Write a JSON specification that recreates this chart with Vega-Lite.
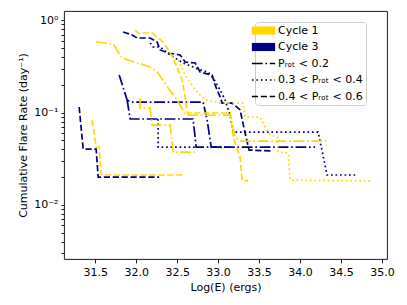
{
"$schema": "https://vega.github.io/schema/vega-lite/v6.json",
"width": 323, "height": 248,
"autosize": {"type": "none"},
"padding": {"left": 64, "top": 11, "right": 20, "bottom": 46},
"config": {"view": {"stroke": "#000", "strokeWidth": 0.9}, "font": "DejaVu Sans",
  "legend": {"strokeColor": "#cccccc", "fillColor": "#ffffff", "cornerRadius": 3},
  "axis": {"domain": false, "grid": false, "labelFont": "DejaVu Sans", "labelFontSize": 11, "labelColor": "#000", "titleFont": "DejaVu Sans", "titleFontSize": 11, "titleFontWeight": "normal", "titleColor": "#000", "tickColor": "#000", "tickWidth": 0.9}},
"data": {"values": [
{"s":"A","grp":"C3 0.4-0.6","i":0,"E":31.305,"rate":0.115},
{"s":"A","grp":"C3 0.4-0.6","i":1,"E":31.354,"rate":0.0403},
{"s":"A","grp":"C3 0.4-0.6","i":2,"E":31.512,"rate":0.0403},
{"s":"A","grp":"C3 0.4-0.6","i":3,"E":31.537,"rate":0.0200},
{"s":"A","grp":"C3 0.4-0.6","i":4,"E":32.280,"rate":0.0200},
{"s":"B","grp":"C1 0.4-0.6","i":0,"E":31.463,"rate":0.0832},
{"s":"B","grp":"C1 0.4-0.6","i":1,"E":31.512,"rate":0.0424},
{"s":"B","grp":"C1 0.4-0.6","i":2,"E":31.549,"rate":0.0424},
{"s":"B","grp":"C1 0.4-0.6","i":3,"E":31.573,"rate":0.0211},
{"s":"B","grp":"C1 0.4-0.6","i":4,"E":32.573,"rate":0.0211},
{"s":"C","grp":"C3 <0.2","i":0,"E":31.793,"rate":0.255},
{"s":"C","grp":"C3 <0.2","i":1,"E":31.890,"rate":0.137},
{"s":"C","grp":"C3 <0.2","i":2,"E":31.939,"rate":0.130},
{"s":"C","grp":"C3 <0.2","i":3,"E":32.817,"rate":0.130},
{"s":"C","grp":"C3 <0.2","i":4,"E":32.866,"rate":0.0832},
{"s":"C","grp":"C3 <0.2","i":5,"E":32.915,"rate":0.0424},
{"s":"C","grp":"C3 <0.2","i":6,"E":34.183,"rate":0.0424},
{"s":"D","grp":"C3 <0.2","i":0,"E":31.890,"rate":0.137},
{"s":"D","grp":"C3 <0.2","i":1,"E":31.927,"rate":0.0853},
{"s":"D","grp":"C3 <0.2","i":2,"E":32.695,"rate":0.0853},
{"s":"D","grp":"C3 <0.2","i":3,"E":32.732,"rate":0.0424},
{"s":"D","grp":"C3 <0.2","i":4,"E":33.146,"rate":0.0424},
{"s":"E","grp":"C3 0.4-0.6","i":0,"E":31.841,"rate":0.747},
{"s":"E","grp":"C3 0.4-0.6","i":1,"E":31.951,"rate":0.693},
{"s":"E","grp":"C3 0.4-0.6","i":2,"E":32.012,"rate":0.643},
{"s":"E","grp":"C3 0.4-0.6","i":3,"E":32.171,"rate":0.643},
{"s":"E","grp":"C3 0.4-0.6","i":4,"E":32.256,"rate":0.582},
{"s":"E","grp":"C3 0.4-0.6","i":5,"E":32.293,"rate":0.477},
{"s":"E","grp":"C3 0.4-0.6","i":6,"E":32.390,"rate":0.442},
{"s":"E","grp":"C3 0.4-0.6","i":7,"E":32.537,"rate":0.421},
{"s":"E","grp":"C3 0.4-0.6","i":8,"E":32.598,"rate":0.353},
{"s":"E","grp":"C3 0.4-0.6","i":9,"E":32.720,"rate":0.345},
{"s":"E","grp":"C3 0.4-0.6","i":10,"E":32.780,"rate":0.275},
{"s":"E","grp":"C3 0.4-0.6","i":11,"E":32.927,"rate":0.255},
{"s":"E","grp":"C3 0.4-0.6","i":12,"E":32.963,"rate":0.199},
{"s":"E","grp":"C3 0.4-0.6","i":13,"E":33.024,"rate":0.148},
{"s":"E","grp":"C3 0.4-0.6","i":14,"E":33.049,"rate":0.127},
{"s":"E","grp":"C3 0.4-0.6","i":15,"E":33.171,"rate":0.127},
{"s":"E","grp":"C3 0.4-0.6","i":16,"E":33.268,"rate":0.107},
{"s":"E","grp":"C3 0.4-0.6","i":17,"E":33.329,"rate":0.0601},
{"s":"E","grp":"C3 0.4-0.6","i":18,"E":33.378,"rate":0.0393},
{"s":"E","grp":"C3 0.4-0.6","i":19,"E":33.671,"rate":0.0384},
{"s":"F","grp":"C3 0.3-0.4","i":0,"E":32.171,"rate":0.568},
{"s":"F","grp":"C3 0.3-0.4","i":1,"E":32.207,"rate":0.514},
{"s":"F","grp":"C3 0.3-0.4","i":2,"E":32.293,"rate":0.514},
{"s":"F","grp":"C3 0.3-0.4","i":3,"E":32.415,"rate":0.421},
{"s":"F","grp":"C3 0.3-0.4","i":4,"E":32.573,"rate":0.345},
{"s":"F","grp":"C3 0.3-0.4","i":5,"E":32.695,"rate":0.312},
{"s":"F","grp":"C3 0.3-0.4","i":6,"E":32.780,"rate":0.290},
{"s":"F","grp":"C3 0.3-0.4","i":7,"E":32.878,"rate":0.275},
{"s":"F","grp":"C3 0.3-0.4","i":8,"E":32.939,"rate":0.237},
{"s":"F","grp":"C3 0.3-0.4","i":9,"E":33.024,"rate":0.176},
{"s":"F","grp":"C3 0.3-0.4","i":10,"E":33.085,"rate":0.137},
{"s":"F","grp":"C3 0.3-0.4","i":11,"E":33.146,"rate":0.094},
{"s":"F","grp":"C3 0.3-0.4","i":12,"E":33.183,"rate":0.0616},
{"s":"F","grp":"C3 0.3-0.4","i":13,"E":34.220,"rate":0.0616},
{"s":"F","grp":"C3 0.3-0.4","i":14,"E":34.329,"rate":0.0211},
{"s":"F","grp":"C3 0.3-0.4","i":15,"E":34.695,"rate":0.0211},
{"s":"G","grp":"C3 0.3-0.4","i":0,"E":32.268,"rate":0.0853},
{"s":"G","grp":"C3 0.3-0.4","i":1,"E":32.268,"rate":0.0424},
{"s":"G","grp":"C3 0.3-0.4","i":2,"E":32.744,"rate":0.0424},
{"s":"H","grp":"C1 <0.2","i":0,"E":31.512,"rate":0.582},
{"s":"H","grp":"C1 <0.2","i":1,"E":31.720,"rate":0.554},
{"s":"H","grp":"C1 <0.2","i":2,"E":31.829,"rate":0.391},
{"s":"H","grp":"C1 <0.2","i":3,"E":32.012,"rate":0.345},
{"s":"H","grp":"C1 <0.2","i":4,"E":32.171,"rate":0.312},
{"s":"H","grp":"C1 <0.2","i":5,"E":32.256,"rate":0.275},
{"s":"H","grp":"C1 <0.2","i":6,"E":32.329,"rate":0.225},
{"s":"H","grp":"C1 <0.2","i":7,"E":32.390,"rate":0.185},
{"s":"H","grp":"C1 <0.2","i":8,"E":32.476,"rate":0.148},
{"s":"H","grp":"C1 <0.2","i":9,"E":32.537,"rate":0.121},
{"s":"H","grp":"C1 <0.2","i":10,"E":32.598,"rate":0.094},
{"s":"H","grp":"C1 <0.2","i":11,"E":33.146,"rate":0.094},
{"s":"H","grp":"C1 <0.2","i":12,"E":33.207,"rate":0.0544},
{"s":"H","grp":"C1 <0.2","i":13,"E":33.268,"rate":0.0492},
{"s":"H","grp":"C1 <0.2","i":14,"E":34.329,"rate":0.0492},
{"s":"I","grp":"C1 0.4-0.6","i":0,"E":31.988,"rate":0.785},
{"s":"I","grp":"C1 0.4-0.6","i":1,"E":32.024,"rate":0.728},
{"s":"I","grp":"C1 0.4-0.6","i":2,"E":32.195,"rate":0.728},
{"s":"I","grp":"C1 0.4-0.6","i":3,"E":32.256,"rate":0.659},
{"s":"I","grp":"C1 0.4-0.6","i":4,"E":32.329,"rate":0.582},
{"s":"I","grp":"C1 0.4-0.6","i":5,"E":32.378,"rate":0.501},
{"s":"I","grp":"C1 0.4-0.6","i":6,"E":32.451,"rate":0.391},
{"s":"I","grp":"C1 0.4-0.6","i":7,"E":32.512,"rate":0.290},
{"s":"I","grp":"C1 0.4-0.6","i":8,"E":32.561,"rate":0.225},
{"s":"I","grp":"C1 0.4-0.6","i":9,"E":32.598,"rate":0.148},
{"s":"I","grp":"C1 0.4-0.6","i":10,"E":32.622,"rate":0.099},
{"s":"I","grp":"C1 0.4-0.6","i":11,"E":33.146,"rate":0.099},
{"s":"I","grp":"C1 0.4-0.6","i":12,"E":33.183,"rate":0.0544},
{"s":"I","grp":"C1 0.4-0.6","i":13,"E":33.268,"rate":0.0330},
{"s":"I","grp":"C1 0.4-0.6","i":14,"E":33.293,"rate":0.0186},
{"s":"I","grp":"C1 0.4-0.6","i":15,"E":33.366,"rate":0.0182},
{"s":"J","grp":"C1 0.3-0.4","i":0,"E":32.512,"rate":0.371},
{"s":"J","grp":"C1 0.3-0.4","i":1,"E":32.598,"rate":0.255},
{"s":"J","grp":"C1 0.3-0.4","i":2,"E":32.720,"rate":0.176},
{"s":"J","grp":"C1 0.3-0.4","i":3,"E":32.841,"rate":0.137},
{"s":"J","grp":"C1 0.3-0.4","i":4,"E":33.024,"rate":0.127},
{"s":"J","grp":"C1 0.3-0.4","i":5,"E":33.305,"rate":0.127},
{"s":"J","grp":"C1 0.3-0.4","i":6,"E":33.329,"rate":0.0896},
{"s":"J","grp":"C1 0.3-0.4","i":7,"E":33.512,"rate":0.0896},
{"s":"J","grp":"C1 0.3-0.4","i":8,"E":33.573,"rate":0.0698},
{"s":"J","grp":"C1 0.3-0.4","i":9,"E":33.634,"rate":0.0572},
{"s":"J","grp":"C1 0.3-0.4","i":10,"E":33.720,"rate":0.0544},
{"s":"J","grp":"C1 0.3-0.4","i":11,"E":33.732,"rate":0.0374},
{"s":"J","grp":"C1 0.3-0.4","i":12,"E":33.854,"rate":0.0365},
{"s":"J","grp":"C1 0.3-0.4","i":13,"E":33.878,"rate":0.0186},
{"s":"J","grp":"C1 0.3-0.4","i":14,"E":34.878,"rate":0.0182},
{"s":"K","grp":"C1 <0.2","i":0,"E":32.049,"rate":0.144},
{"s":"K","grp":"C1 <0.2","i":1,"E":32.049,"rate":0.112},
{"s":"K","grp":"C1 <0.2","i":2,"E":32.171,"rate":0.112},
{"s":"K","grp":"C1 <0.2","i":3,"E":32.195,"rate":0.0733},
{"s":"K","grp":"C1 <0.2","i":4,"E":32.415,"rate":0.0733},
{"s":"K","grp":"C1 <0.2","i":5,"E":32.451,"rate":0.0374},
{"s":"K","grp":"C1 <0.2","i":6,"E":32.720,"rate":0.0374}
]},
"mark": {"type": "line", "strokeWidth": 1.7, "clip": true},
"encoding": {
  "x": {"field": "E", "type": "quantitative", "title": "Log(E) (ergs)",
        "scale": {"domain": [31.12, 35.06], "nice": false, "zero": false},
        "axis": {"values": [31.5, 32.0, 32.5, 33.0, 33.5, 34.0, 34.5, 35.0], "format": ".1f", "tickSize": 3.9, "labelPadding": 4, "titlePadding": 4}},
  "y": {"field": "rate", "type": "quantitative", "title": "Cumulative Flare Rate (day⁻¹)",
        "scale": {"type": "log", "domain": [0.0026, 1.26], "nice": false},
        "axis": {"values": [0.003,0.004,0.005,0.006,0.007,0.008,0.009,0.01,0.02,0.03,0.04,0.05,0.06,0.07,0.08,0.09,0.1,0.2,0.3,0.4,0.5,0.6,0.7,0.8,0.9,1],
                 "labelExpr": "datum.value == 1 ? '10⁰' : datum.value == 0.1 ? '10⁻¹' : datum.value == 0.01 ? '10⁻²' : ''",
                 "tickSize": 3,
                 "labelPadding": 3, "titlePadding": 5}},
  "detail": {"field": "s"},
  "order": {"field": "i"},
  "color": {"field": "grp", "type": "nominal",
    "scale": {"domain": ["Cycle 1","Cycle 3","Pᵣₒₜ < 0.2","0.3 < Pᵣₒₜ < 0.4","0.4 < Pᵣₒₜ < 0.6","C1 <0.2","C1 0.3-0.4","C1 0.4-0.6","C3 <0.2","C3 0.3-0.4","C3 0.4-0.6"],
              "range": ["#FFD700","#000080","#000000","#000000","#000000","#FFD700","#FFD700","#FFD700","#000080","#000080","#000080"]},
    "legend": {"values": ["Cycle 1","Cycle 3","Pᵣₒₜ < 0.2","0.3 < Pᵣₒₜ < 0.4","0.4 < Pᵣₒₜ < 0.6"], "title": null, "orient": "none", "legendX": 191, "legendY": 11,
      "symbolType": "stroke", "symbolSize": 540, "symbolStrokeWidth": 1.7, "labelFontSize": 11, "labelFont": "DejaVu Sans", "labelColor": "#000",
      "labelExpr": "datum.label + '\u00a0\u00a0\u00a0\u00a0'",
      "fillColor": "white", "strokeColor": "#cccccc", "cornerRadius": 3, "padding": 3, "rowPadding": 4.5, "labelOffset": 9,
      "encode": {"legend": {"update": {"stroke": {"value": "#cccccc"}, "strokeWidth": {"value": 1}, "fill": {"value": "#ffffff"}, "cornerRadius": {"value": 3}}},
        "symbols": {"update": {
        "shape": {"signal": "datum.value === 'Cycle 1' || datum.value === 'Cycle 3' ? 'M-1,-0.35H1V0.35H-1Z' : 'stroke'"},
        "fill": {"signal": "datum.value === 'Cycle 1' ? '#FFD700' : datum.value === 'Cycle 3' ? '#000080' : 'transparent'"},
        "strokeWidth": {"signal": "datum.value === 'Cycle 1' || datum.value === 'Cycle 3' ? 0 : 1.7"}}}}}},
  "strokeDash": {"field": "grp", "type": "nominal",
    "scale": {"domain": ["Cycle 1","Cycle 3","Pᵣₒₜ < 0.2","0.3 < Pᵣₒₜ < 0.4","0.4 < Pᵣₒₜ < 0.6","C1 <0.2","C1 0.3-0.4","C1 0.4-0.6","C3 <0.2","C3 0.3-0.4","C3 0.4-0.6"],
              "range": [[1,0],[1,0],[10.8,2.7,1.7,2.7],[1.7,2.8],[6.2,2.7],[10.8,2.7,1.7,2.7],[1.7,2.8],[6.2,2.7],[10.8,2.7,1.7,2.7],[1.7,2.8],[6.2,2.7]]},
    "legend": {"values": ["Cycle 1","Cycle 3","Pᵣₒₜ < 0.2","0.3 < Pᵣₒₜ < 0.4","0.4 < Pᵣₒₜ < 0.6"], "title": null, "orient": "none", "legendX": 191, "legendY": 11,
      "symbolType": "stroke", "symbolSize": 540, "symbolStrokeWidth": 1.7, "labelFontSize": 11, "labelFont": "DejaVu Sans", "labelColor": "#000",
      "labelExpr": "datum.label + '\u00a0\u00a0\u00a0\u00a0'",
      "fillColor": "white", "strokeColor": "#cccccc", "cornerRadius": 3, "padding": 3, "rowPadding": 4.5, "labelOffset": 9,
      "encode": {"legend": {"update": {"stroke": {"value": "#cccccc"}, "strokeWidth": {"value": 1}, "fill": {"value": "#ffffff"}, "cornerRadius": {"value": 3}}},
        "symbols": {"update": {
        "shape": {"signal": "datum.value === 'Cycle 1' || datum.value === 'Cycle 3' ? 'M-1,-0.35H1V0.35H-1Z' : 'stroke'"},
        "fill": {"signal": "datum.value === 'Cycle 1' ? '#FFD700' : datum.value === 'Cycle 3' ? '#000080' : 'transparent'"},
        "strokeWidth": {"signal": "datum.value === 'Cycle 1' || datum.value === 'Cycle 3' ? 0 : 1.7"}}}}}}
}
}
